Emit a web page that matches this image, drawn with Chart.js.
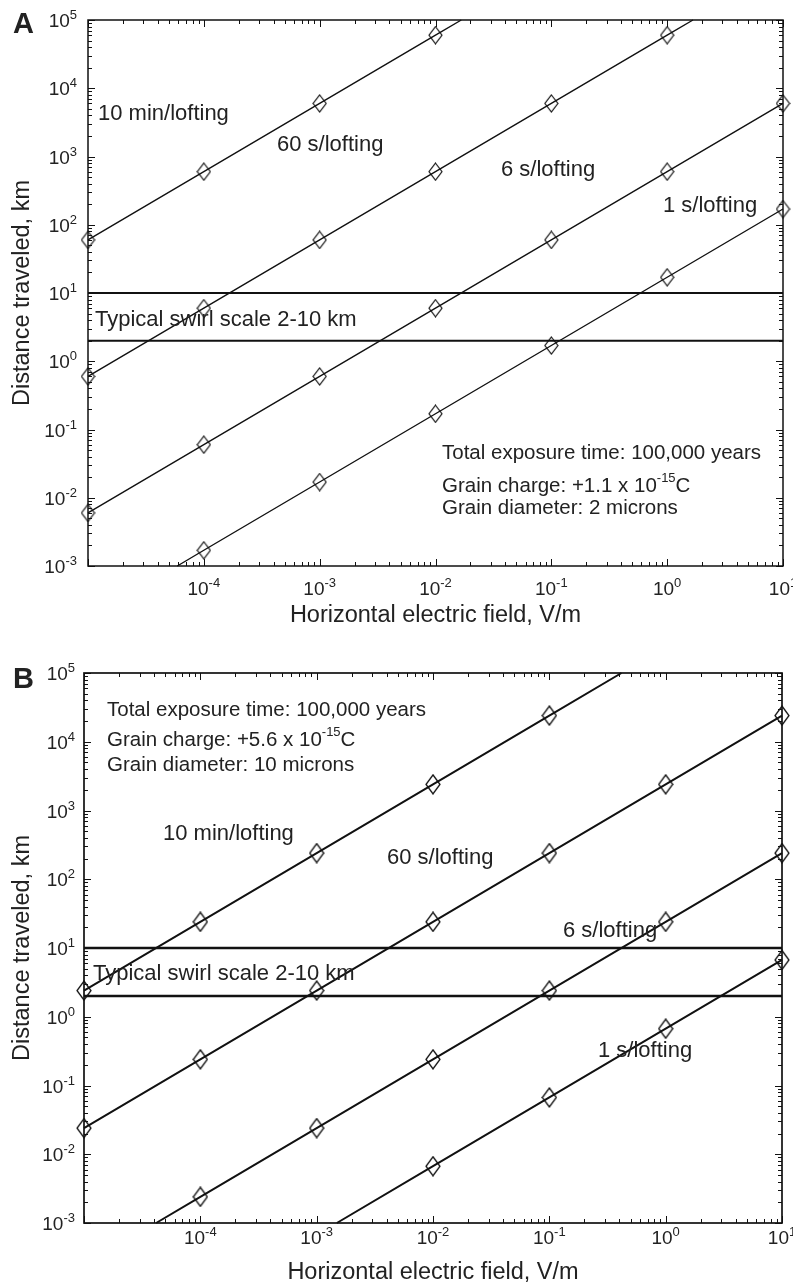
<!DOCTYPE html>
<html>
<head>
<meta charset="utf-8">
<script src="https://cdn.jsdelivr.net/npm/chart.js@4.4.1/dist/chart.umd.min.js"></script>
<style>
  body { margin: 0; background: #fff; }
  #wrap { position: relative; width: 793px; height: 1284px; }
  canvas { position: absolute; left: 0; }
</style>
</head>
<body>
<div id="wrap">
  <canvas id="chartA" width="793" height="640" style="top:0"></canvas>
  <canvas id="chartB" width="793" height="644" style="top:640px"></canvas>
</div>
<script>
// 1. Data (field in V/m, distance in km)
// Panel A - 2 micron grains
const fieldA10min = [1e-5, 1e-4, 1e-3, 1e-2, 0.0167];
const distA10min  = [60, 600, 6000, 60000, 100000];
const fieldA60s   = [1e-5, 1e-4, 1e-3, 1e-2, 1e-1, 1, 1.67];
const distA60s    = [0.6, 6, 60, 600, 6000, 60000, 100000];
const fieldA6s    = [1e-5, 1e-4, 1e-3, 1e-2, 1e-1, 1, 10];
const distA6s     = [0.006, 0.06, 0.6, 6, 60, 600, 6000];
const fieldA1s    = [5.9e-5, 1e-4, 1e-3, 1e-2, 1e-1, 1, 10];
const distA1s     = [0.001, 0.0017, 0.017, 0.17, 1.7, 17, 170];

// Panel B - 10 micron grains
const fieldB10min = [1e-5, 1e-4, 1e-3, 1e-2, 1e-1, 0.417];
const distB10min  = [2.4, 24, 240, 2400, 24000, 100000];
const fieldB60s   = [1e-5, 1e-4, 1e-3, 1e-2, 1e-1, 1, 10];
const distB60s    = [0.024, 0.24, 2.4, 24, 240, 2400, 24000];
const fieldB6s    = [4.17e-5, 1e-4, 1e-3, 1e-2, 1e-1, 1, 10];
const distB6s     = [0.001, 0.0024, 0.024, 0.24, 2.4, 24, 240];
const fieldB1s    = [1.49e-3, 1e-2, 1e-1, 1, 10];
const distB1s     = [0.001, 0.0067, 0.067, 0.67, 6.7];

// swirl scale band and axis ranges
const swirlScale = [2, 10];
const fieldRange = [1e-5, 10];
const distRange  = [1e-3, 1e5];
const xTickExps  = [-4, -3, -2, -1, 0, 1];   // 10^-5 sits on the corner, not labelled
const yTickExps  = [-3, -2, -1, 0, 1, 2, 3, 4, 5];

const chargeA = '+1.1', chargeB = '+5.6';
const diameterA = '2 microns', diameterB = '10 microns';

const FONT = "'Liberation Sans', Arial, Helvetica, sans-serif";
const INK = '#111';

// 2. Helpers
function series(xs, ys) { return xs.map((x, i) => ({ x: x, y: ys[i] })); }
function isDecade(v) { const l = Math.log10(v); return Math.abs(l - Math.round(l)) < 1e-6; }

function diamond(w, h, lw) {
  const c = document.createElement('canvas');
  c.width = w + 2; c.height = h + 2;
  const g = c.getContext('2d');
  g.strokeStyle = INK; g.lineWidth = lw;
  g.beginPath();
  g.moveTo(c.width / 2, 1);
  g.lineTo(c.width - 1, c.height / 2);
  g.lineTo(c.width / 2, c.height - 1);
  g.lineTo(1, c.height / 2);
  g.closePath();
  g.stroke();
  return c;
}

// "10" with a raised exponent; align = 'center' | 'right'
function powLabel(ctx, exp, x, base, align) {
  ctx.font = '19px ' + FONT;
  const wb = ctx.measureText('10').width;
  ctx.font = '13px ' + FONT;
  const we = ctx.measureText(String(exp)).width;
  const start = align === 'right' ? x - wb - we : x - (wb + we) / 2;
  ctx.textAlign = 'left';
  ctx.textBaseline = 'alphabetic';
  ctx.font = '19px ' + FONT;
  ctx.fillText('10', start, base);
  ctx.font = '13px ' + FONT;
  ctx.fillText(String(exp), start + wb, base - 8);
}

function lineDataset(xs, ys, lw, marker) {
  return {
    data: series(xs, ys),
    borderColor: INK,
    borderWidth: lw,
    backgroundColor: 'transparent',
    pointStyle: marker,
    pointRadius: c => (c.raw && isDecade(c.raw.x)) ? 7 : 0,
    clip: false,
    tension: 0
  };
}

function swirlDataset(v, lw) {
  return {
    data: series(fieldRange, [v, v]),
    borderColor: INK,
    borderWidth: lw,
    pointRadius: 0,
    clip: false
  };
}

// 3. Frame, ticks, labels and annotations drawn through the chart's scales
const framePlugin = {
  id: 'frame',
  afterDatasetsDraw(chart) {
    const p = chart.config.options.plugins.frame;
    const { ctx, chartArea: a, scales: { x, y } } = chart;
    ctx.save();
    ctx.strokeStyle = INK;
    ctx.lineWidth = 1;
    ctx.beginPath();
    const xl0 = Math.log10(fieldRange[0]), xl1 = Math.log10(fieldRange[1]);
    for (let e = xl0; e <= xl1; e++) {
      for (let k = 1; k < 10; k++) {
        const v = k * Math.pow(10, e);
        if (v > fieldRange[1] * 1.0001) break;
        const px = Math.round(x.getPixelForValue(v)) + 0.5;
        const len = k === 1 ? 7 : 4;
        ctx.moveTo(px, a.bottom); ctx.lineTo(px, a.bottom - len);
        ctx.moveTo(px, a.top); ctx.lineTo(px, a.top + len);
      }
    }
    const yl0 = Math.log10(distRange[0]), yl1 = Math.log10(distRange[1]);
    for (let e = yl0; e <= yl1; e++) {
      for (let k = 1; k < 10; k++) {
        const v = k * Math.pow(10, e);
        if (v > distRange[1] * 1.0001) break;
        const py = Math.round(y.getPixelForValue(v)) + 0.5;
        const len = k === 1 ? 7 : 4;
        ctx.moveTo(a.left, py); ctx.lineTo(a.left + len, py);
        ctx.moveTo(a.right, py); ctx.lineTo(a.right - len, py);
      }
    }
    ctx.stroke();
    ctx.lineWidth = p.frameWidth;
    ctx.strokeRect(a.left, a.top, a.right - a.left, a.bottom - a.top);
    ctx.restore();
  },
  afterDraw(chart) {
    const p = chart.config.options.plugins.frame;
    const { ctx, chartArea: a, scales: { x, y } } = chart;
    ctx.save();
    ctx.fillStyle = '#222';

    // tick labels
    xTickExps.forEach(e => powLabel(ctx, e, x.getPixelForValue(Math.pow(10, e)), a.bottom + p.xLabelGap, 'center'));
    yTickExps.forEach(e => powLabel(ctx, e, a.left - p.yLabelGap, y.getPixelForValue(Math.pow(10, e)) + 7, 'right'));

    // axis titles
    ctx.font = '23.5px ' + FONT;
    ctx.textAlign = 'center';
    ctx.textBaseline = 'alphabetic';
    ctx.fillText('Horizontal electric field, V/m', (a.left + a.right) / 2, a.bottom + 56);
    ctx.save();
    ctx.translate(23, (a.top + a.bottom) / 2);
    ctx.rotate(-Math.PI / 2);
    ctx.textBaseline = 'middle';
    ctx.fillText('Distance traveled, km', 0, 0);
    ctx.restore();

    // panel letter
    ctx.font = 'bold 29px ' + FONT;
    ctx.textAlign = 'left';
    ctx.fillText(p.letter, 13, p.letterBase);

    // curve labels
    ctx.font = '22px ' + FONT;
    p.labels.forEach(l => ctx.fillText(l.text, l.x, l.y));

    // exposure / grain info block
    const info = p.info;
    ctx.font = '20.5px ' + FONT;
    ctx.fillText('Total exposure time: 100,000 years', info.x, info.y[0]);
    const pre = 'Grain charge: ' + info.charge + ' x 10';
    ctx.fillText(pre, info.x, info.y[1]);
    let cx = info.x + ctx.measureText(pre).width;
    ctx.font = '13px ' + FONT;
    ctx.fillText('-15', cx, info.y[1] - 10);
    cx += ctx.measureText('-15').width;
    ctx.font = '20.5px ' + FONT;
    ctx.fillText('C', cx, info.y[1]);
    ctx.fillText('Grain diameter: ' + info.diameter, info.x, info.y[2]);
    ctx.restore();
  }
};

function makeChart(id, datasets, padding, frame) {
  return new Chart(document.getElementById(id), {
    type: 'line',
    data: { datasets: datasets },
    options: {
      responsive: false,
      animation: false,
      events: [],
      layout: { padding: padding },
      scales: {
        x: { type: 'logarithmic', min: fieldRange[0], max: fieldRange[1], display: false },
        y: { type: 'logarithmic', min: distRange[0], max: distRange[1], display: false }
      },
      plugins: { legend: { display: false }, tooltip: { enabled: false }, frame: frame }
    },
    plugins: [framePlugin]
  });
}

// 4. Panel A
const markA = diamond(13, 17, 1.2);
makeChart('chartA', [
  lineDataset(fieldA10min, distA10min, 1.4, markA),
  lineDataset(fieldA60s, distA60s, 1.4, markA),
  lineDataset(fieldA6s, distA6s, 1.4, markA),
  lineDataset(fieldA1s, distA1s, 1.4, markA),
  swirlDataset(swirlScale[0], 2),
  swirlDataset(swirlScale[1], 2)
], { left: 88, top: 20, right: 10, bottom: 74 }, {
  letter: 'A', letterBase: 33, frameWidth: 1.5, xLabelGap: 29, yLabelGap: 11,
  labels: [
    { text: '10 min/lofting', x: 98, y: 120 },
    { text: '60 s/lofting', x: 277, y: 151 },
    { text: '6 s/lofting', x: 501, y: 176 },
    { text: '1 s/lofting', x: 663, y: 212 },
    { text: 'Typical swirl scale 2-10 km', x: 95, y: 326 }
  ],
  info: { x: 442, y: [459, 492, 514], charge: chargeA, diameter: diameterA }
});

// 5. Panel B
const markB = diamond(14, 19, 1.3);
makeChart('chartB', [
  lineDataset(fieldB10min, distB10min, 2, markB),
  lineDataset(fieldB60s, distB60s, 2, markB),
  lineDataset(fieldB6s, distB6s, 2, markB),
  lineDataset(fieldB1s, distB1s, 2, markB),
  swirlDataset(swirlScale[0], 2.5),
  swirlDataset(swirlScale[1], 2.5)
], { left: 84, top: 33, right: 11, bottom: 61 }, {
  letter: 'B', letterBase: 48, frameWidth: 1.7, xLabelGap: 21, yLabelGap: 9,
  labels: [
    { text: '10 min/lofting', x: 163, y: 200 },
    { text: '60 s/lofting', x: 387, y: 224 },
    { text: '6 s/lofting', x: 563, y: 297 },
    { text: 'Typical swirl scale 2-10 km', x: 93, y: 340 },
    { text: '1 s/lofting', x: 598, y: 417 }
  ],
  info: { x: 107, y: [76, 106, 131], charge: chargeB, diameter: diameterB }
});
</script>
</body>
</html>
